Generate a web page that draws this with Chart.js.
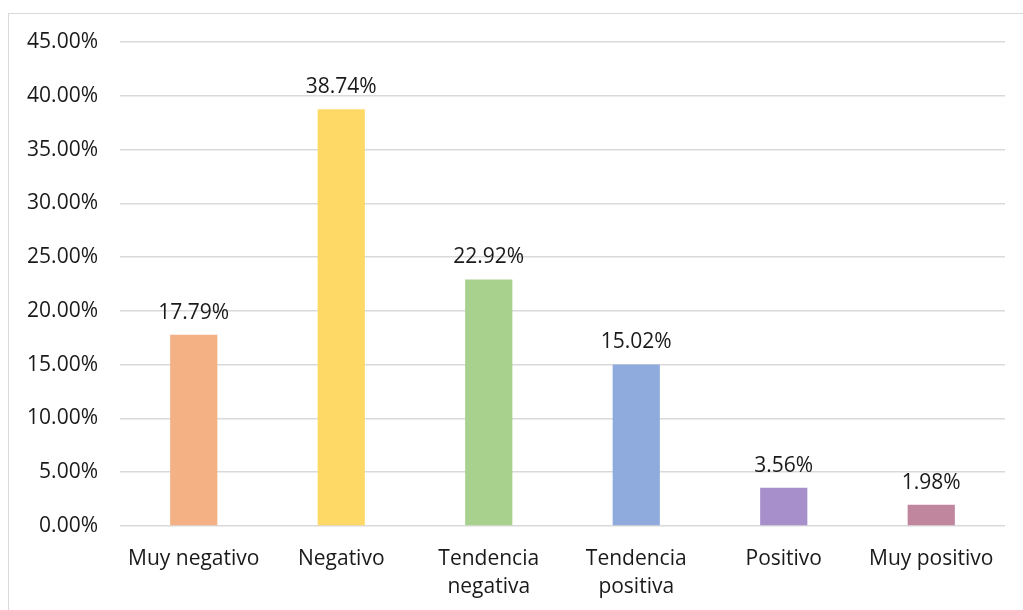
<!DOCTYPE html>
<html>
<head>
<meta charset="utf-8">
<script src="https://cdn.jsdelivr.net/npm/chart.js@4.4.0/dist/chart.umd.min.js"></script>
<style>
  html, body { margin: 0; padding: 0; background: #fff; }
  body { width: 1023px; height: 610px; position: relative; overflow: hidden; }
  .frame { position: absolute; left: 8px; top: 13px; width: 1030px; height: 620px; border: 1.5px solid #d9d9d9; box-sizing: border-box; }
  #wrap { position: absolute; left: 0; top: 0; width: 1023px; height: 610px; }
</style>
</head>
<body>
<div class="frame"></div>
<div id="wrap"><canvas id="chart"></canvas></div>
<script>
// categorieen en waarden uit de grafiek
const categories = [['Muy negativo'], ['Negativo'], ['Tendencia', 'negativa'], ['Tendencia', 'positiva'], ['Positivo'], ['Muy positivo']];
const values = [17.79, 38.74, 22.92, 15.02, 3.56, 1.98];
const barColors = ['#F4B183', '#FFD966', '#A9D18E', '#8FAADC', '#A68FCB', '#BF869D'];
const yTicks = [0, 5, 10, 15, 20, 25, 30, 35, 40, 45];

const fontFamily = "'Open Sans', sans-serif";

// labels boven de staven tekenen
const valueLabels = {
    id: 'valueLabels',
    afterDatasetsDraw(chart) {
        const ctx = chart.ctx;
        const meta = chart.getDatasetMeta(0);
        ctx.save();
        ctx.font = '21px ' + fontFamily;
        ctx.fillStyle = '#1a1a1a';
        ctx.textAlign = 'center';
        ctx.textBaseline = 'middle';
        meta.data.forEach((bar, i) => {
            ctx.fillText(values[i].toFixed(2) + '%', bar.x, bar.y - 22);
        });
        ctx.restore();
    }
};

new Chart(document.getElementById('chart'), {
    type: 'bar',
    data: {
        labels: categories,
        datasets: [{
            data: values,
            backgroundColor: barColors,
            barPercentage: 0.32,
            categoryPercentage: 1
        }]
    },
    options: {
        responsive: true,
        maintainAspectRatio: false,
        animation: false,
        layout: { padding: { left: 0, right: 18, top: 42, bottom: 0 } },
        plugins: {
            legend: { display: false },
            tooltip: { enabled: false }
        },
        scales: {
            x: {
                grid: { display: false },
                border: { display: false },
                ticks: {
                    color: '#1a1a1a',
                    font: { family: fontFamily, size: 21, lineHeight: 1.33 },
                    padding: 11,
                    maxRotation: 0,
                    autoSkip: false
                },
                afterFit(scale) { scale.height = 84; }
            },
            y: {
                min: 0,
                max: 45,
                afterBuildTicks(scale) { scale.ticks = yTicks.map(v => ({ value: v })); },
                grid: { color: '#d9d9d9', lineWidth: 1.5, drawTicks: false },
                border: { display: false },
                ticks: {
                    color: '#1a1a1a',
                    font: { family: fontFamily, size: 21 },
                    padding: 22,
                    callback: v => v.toFixed(2) + '%'
                },
                afterFit(scale) { scale.width = 120; }
            }
        }
    },
    plugins: [valueLabels]
});
</script>
</body>
</html>
